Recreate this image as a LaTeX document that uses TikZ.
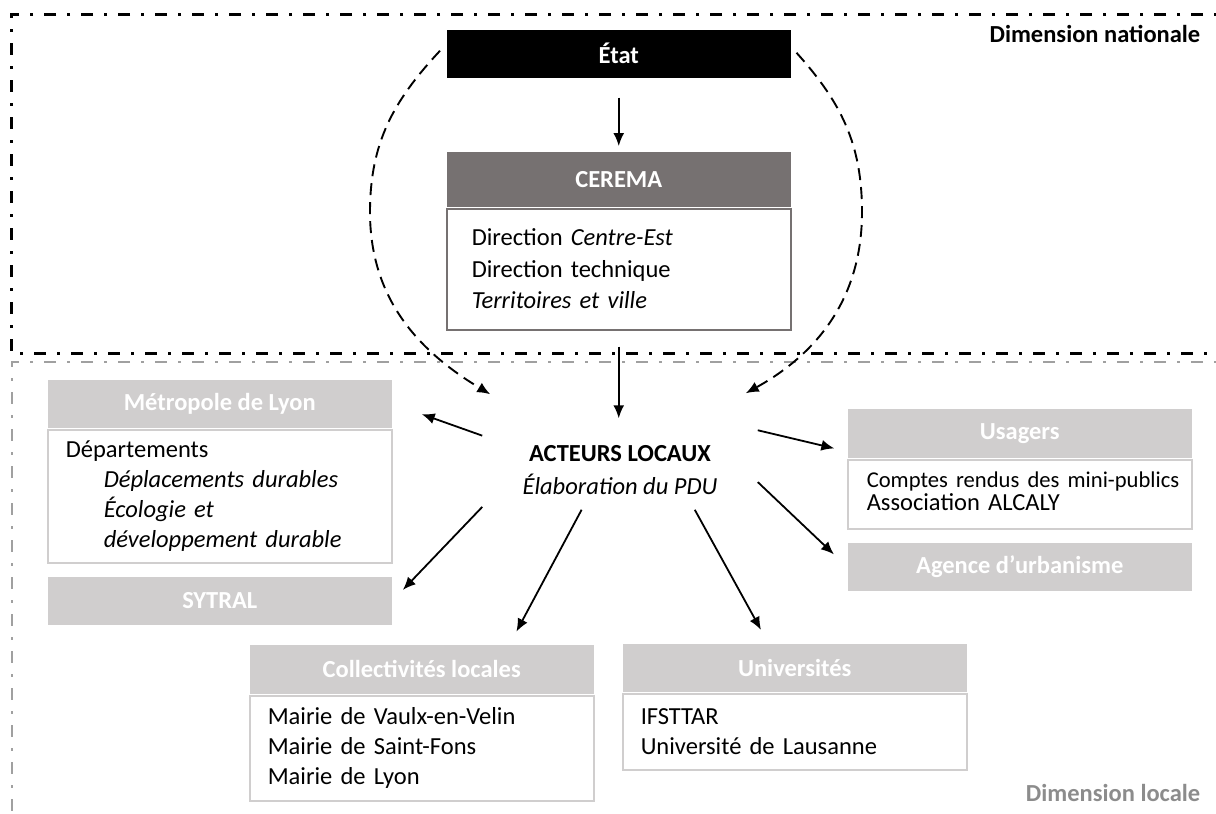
\documentclass[tikz,border=0pt]{standalone}
\usepackage{fontspec}
\setmainfont{Carlito}
\usepackage{tikz}
\usetikzlibrary{arrows.meta,calc,positioning}

\definecolor{titregris}{HTML}{D0CECE}
\definecolor{ceremagris}{HTML}{767171}
\definecolor{cadregris}{HTML}{A0A0A0}
\definecolor{legendegris}{HTML}{8C8C8C}

\newcommand\corpsfont{\fontsize{12.25}{15}\selectfont}

\begin{document}
\begin{tikzpicture}[x=0.5pt,y=0.5pt,>={Latex[length=6.5pt,width=5.5pt]},line width=0.75pt,
		every node/.style={inner sep=0pt}]
		\tikzstyle{titre}=[rectangle,fill=titregris,text=white,font=\corpsfont\bfseries,minimum width=172pt,minimum height=24pt,anchor=north west]
		\tikzstyle{corps}=[rectangle,draw=titregris,line width=1pt,fill=white,text width=154pt,inner xsep=9pt,align=left,font=\corpsfont]
		\tikzstyle{fleche}=[->,line width=0.9pt]
		\tikzstyle{cercle}=[->,line width=0.95pt,dash pattern=on 6pt off 3.5pt]
		\tikzstyle{cadre}=[line width=1.5pt,dash pattern=on 6pt off 5.5pt on 1.5pt off 5.5pt]

		\useasboundingbox (0,0) rectangle (1216,-814);
		\clip (0,0) rectangle (1216,-814);

		% les deux niveaux
		\draw[cadre] (1240,-14) -| (11,-353) -- (1240,-353);
		\draw[cadre,draw=cadregris,line width=1.4pt] (1240,-362) -| (12,-830);
		\node[anchor=east,font=\corpsfont\bfseries] (dim_nat) at (1201,-34) {Dimension nationale};
		\node[anchor=east,font=\corpsfont\bfseries,text=legendegris] (dim_loc) at (1201,-793) {Dimension locale};

		% niveau national
		\node[titre,fill=black] (etat) at (446,-29) {État};
		\node[titre,fill=ceremagris,minimum height=27.5pt] (cerema_head) at (446,-151) {CEREMA};
		\node[corps,draw=ceremagris,inner xsep=12.5pt,text width=147pt,minimum height=60.5pt,
			font=\fontsize{12.25}{15.75}\selectfont] (cerema_body) [below=0pt of cerema_head]
			{Direction \textit{Centre-Est}\\Direction technique\\\textit{Territoires et ville}};

		% acteurs locaux
		\node[align=center,minimum width=137pt,minimum height=39pt,font=\fontsize{12.25}{16.3}\selectfont] (acteurs) at (620,-470)
			{\textbf{ACTEURS LOCAUX}\\\textit{Élaboration du PDU}};

		\node[titre] (metro_head) at (47,-379) {Métropole de Lyon};
		\node[corps,minimum height=66.5pt] (metro_body) [below=0pt of metro_head]
			{Départements\\\hspace*{19pt}\textit{Déplacements durables}\\\hspace*{19pt}\textit{Écologie et}\\\hspace*{19pt}\textit{développement durable}};
		\node[titre] (sytral) at (47,-576) {SYTRAL};

		\node[titre,minimum height=24.5pt] (coll_head) at (249,-644) {Collectivités locales};
		\node[corps,minimum height=52.5pt] (coll_body) [below=0pt of coll_head]
			{Mairie de Vaulx-en-Velin\\Mairie de Saint-Fons\\Mairie de Lyon};

		\node[titre] (univ_head) at (622,-643) {Universités};
		\node[corps,minimum height=38pt] (univ_body) [below=0pt of univ_head]
			{IFSTTAR\\Université de Lausanne};

		\node[titre,minimum height=24.5pt] (usagers_head) at (847,-408) {Usagers};
		\node[corps,minimum height=34.5pt,inner xsep=9.5pt,text width=153pt,font=\fontsize{12.25}{11.5}\selectfont] (usagers_body) [below=0pt of usagers_head]
			{{\fontsize{11.3}{11.5}\selectfont\mbox{Comptes rendus des mini-publics}}\\Association ALCALY\vspace*{3pt}};
		\node[titre] (agence) at (847,-542) {Agence d’urbanisme};

		% flèches
		\draw[fleche,shorten <=9.5pt,shorten >=2.5pt] (etat.south) -- (cerema_head.north);
		\draw[fleche,shorten <=8pt,shorten >=6pt] (cerema_body.south) -- (cerema_body.south |- acteurs.north);
		\draw[fleche,shorten >=15.5pt] (acteurs.166) -- (metro_head.east);
		\draw[fleche,shorten >=7.5pt] (acteurs.195) -- (sytral.east);
		\draw[fleche,shorten >=7pt] (acteurs.226) -- (coll_head.16);
		\draw[fleche,shorten >=7.5pt] (acteurs.-28) -- (univ_head.137);
		\draw[fleche,shorten >=6.5pt] (acteurs.north east) -- (usagers_head.186);
		\draw[fleche,shorten >=9pt] (acteurs.-5) -- (agence.west);

		% cercle en tirets autour de l'État
		\coordinate (nat_l) at (370,-212);
		\coordinate (nat_r) at (862,-212);
		\draw[cercle] ($(etat.west)+(-6,3)$) to[out=227,in=90] (nat_l) to[out=270,in=149] ($(acteurs.north west)+(8,36)$);
		\draw[cercle] ($(etat.east)+(5,1)$) to[out=-48,in=90] (nat_r) to[out=-90,in=29] ($(acteurs.north east)+(-12,37)$);
	\end{tikzpicture}
\end{document}
